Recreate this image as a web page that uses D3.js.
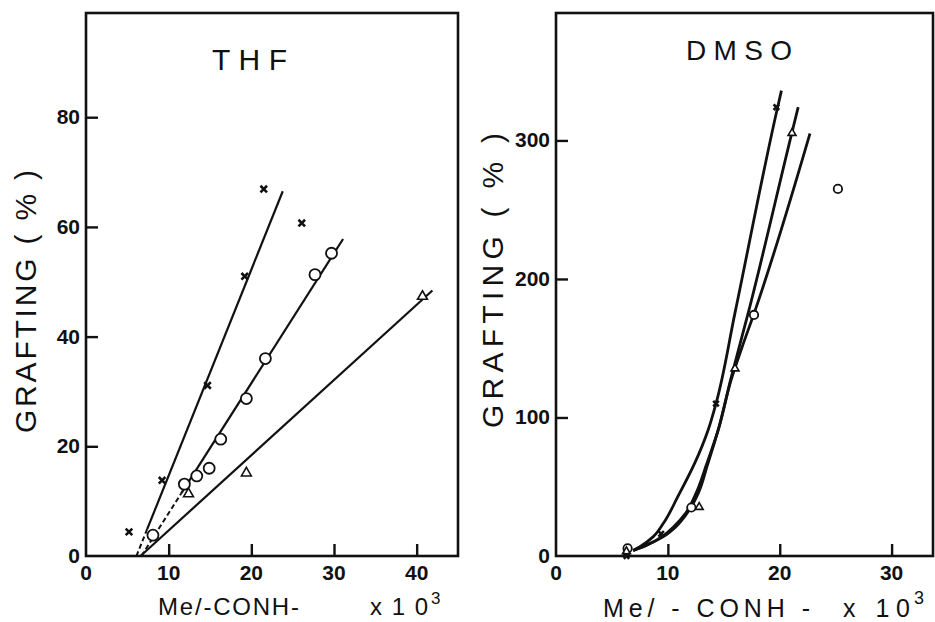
<!DOCTYPE html>
<html><head><meta charset="utf-8">
<script src="https://cdn.jsdelivr.net/npm/d3@7"></script>
<style>
body{margin:0;background:#fff;}
svg{display:block;}
.tick-lbl{font-family:"Liberation Sans Narrow","Arial Narrow","Liberation Sans",sans-serif;font-weight:bold;font-size:21px;fill:#111;}
.ttl{font-family:"Liberation Sans","DejaVu Sans",sans-serif;fill:#111;}
</style></head>
<body>
<svg id="c" width="935" height="622"></svg>
<script>
// ---------- THF panel data ----------
const thfXTicks = [0, 10, 20, 30, 40];
const thfYTicks = [0, 20, 40, 60, 80];
const thfCrossX = [5.2, 9.2, 14.7, 19.2, 21.5, 26.1];
const thfCrossY = [4.4, 13.8, 31.1, 51.0, 66.9, 60.7];
const thfCircleX = [8.1, 11.9, 13.4, 14.9, 16.3, 19.4, 21.7, 27.7, 29.7];
const thfCircleY = [3.8, 13.1, 14.6, 16.0, 21.3, 28.7, 36.0, 51.3, 55.2];
const thfTriX = [12.4, 19.4, 40.7];
const thfTriY = [11.5, 15.3, 47.5];
// fitted straight lines: [x at y=0, x where dashes end, x end, y end]
const thfCrossLine = [6.1, 7.4, 23.8, 66.5];
const thfCircleLine = [6.7, 11.5, 31.1, 57.8];
const thfTriLine = [6.6, 6.6, 41.9, 48.4];

// ---------- DMSO panel data ----------
const dmsoXTicks = [0, 10, 20, 30];
const dmsoYTicks = [0, 100, 200, 300];
const dmsoCrossX = [6.3, 9.4, 14.3, 19.7];
const dmsoCrossY = [0, 16, 110, 324];
const dmsoTriX = [6.3, 12.8, 16.0, 21.1];
const dmsoTriY = [4, 36, 136, 306];
const dmsoCircleX = [6.4, 12.1, 17.7, 25.2];
const dmsoCircleY = [5.5, 35, 174, 265];
// hand-drawn curves
const dmsoCrossCurveX = [6.9, 7.5, 8.7, 9.6, 10.9, 12.4, 13.6, 14.3, 16.0, 19.7, 20.15];
const dmsoCrossCurveY = [4, 6.7, 14, 23.6, 43, 67, 91, 110, 175.5, 320, 336];
const dmsoTriCurveX = [6.9, 8.0, 9.6, 10.7, 11.9, 12.7, 13.55, 14.5, 15.6, 17.2, 21.1, 21.65];
const dmsoTriCurveY = [4, 7.5, 14, 21, 33, 45, 66, 91, 127, 176, 306, 324];
const dmsoCircleCurveX = [6.9, 8.0, 9.5, 10.5, 11.6, 12.5, 13.45, 14.5, 15.65, 16.6, 17.7, 22.7];
const dmsoCircleCurveY = [4, 7.5, 14, 21, 31, 45, 66, 91, 127, 150, 175, 305];

const svg = d3.select("#c");
const zip = (xs, ys) => xs.map((x, i) => [x, ys[i]]);

function panel(opt) {
  const g = svg.append("g");
  const x = d3.scaleLinear().domain(opt.xDomain).range(opt.xRange);
  const y = d3.scaleLinear().domain(opt.yDomain).range(opt.yRange);
  g.append("rect").attr("x", opt.xRange[0]).attr("y", opt.yRange[1])
    .attr("width", opt.xRange[1] - opt.xRange[0]).attr("height", opt.yRange[0] - opt.yRange[1])
    .attr("fill", "none").attr("stroke", "#111").attr("stroke-width", 2.6);
  const xa = d3.axisTop(x).tickValues(opt.xTicks.filter(v => v > 0)).tickSize(12).tickFormat("");
  g.append("g").attr("transform", `translate(0,${opt.yRange[0]})`).call(xa)
    .call(s => { s.select(".domain").remove(); s.selectAll("line").attr("stroke", "#111").attr("stroke-width", 2.4); });
  const ya = d3.axisRight(y).tickValues(opt.yTicks.filter(v => v > 0)).tickSize(12).tickFormat("");
  g.append("g").attr("transform", `translate(${opt.xRange[0]},0)`).call(ya)
    .call(s => { s.select(".domain").remove(); s.selectAll("line").attr("stroke", "#111").attr("stroke-width", 2.4); });
  g.selectAll(".xl").data(opt.xTicks).join("text").attr("class", "tick-lbl")
    .attr("x", d => x(d)).attr("y", opt.yRange[0] + 24).attr("text-anchor", "middle").text(d => d);
  g.selectAll(".yl").data(opt.yTicks).join("text").attr("class", "tick-lbl")
    .attr("x", opt.xRange[0] - 6).attr("y", d => y(d) + 7).attr("text-anchor", "end").text(d => d);
  return {g, x, y};
}

function markers(p, pts, type, sz) {
  const {g, x, y} = p;
  if (type === "circle") {
    g.selectAll(null).data(pts).join("circle").attr("cx", d => x(d[0])).attr("cy", d => y(d[1]))
      .attr("r", sz).attr("fill", "#fff").attr("stroke", "#111").attr("stroke-width", 1.8);
  } else {
    const sym = type === "tri" ? d3.symbolTriangle2 : d3.symbolTimes;
    g.selectAll(null).data(pts).join("path")
      .attr("transform", d => `translate(${x(d[0])},${y(d[1]) + (type === "tri" ? 1 : 0)})`)
      .attr("d", d3.symbol(sym, sz))
      .attr("fill", type === "tri" ? "#fff" : "none").attr("stroke", "#111")
      .attr("stroke-width", type === "tri" ? 1.6 : 2.6);
  }
}

// ---------- THF ----------
const L = panel({xDomain: [0, 45], xRange: [86, 458], yDomain: [0, 99], yRange: [556, 13],
                 xTicks: thfXTicks, yTicks: thfYTicks});
function fitLine(p, ln) {
  const slope = ln[3] / (ln[2] - ln[0]);
  const yAt = v => slope * (v - ln[0]);
  const ls = d3.line().x(d => p.x(d[0])).y(d => p.y(d[1]));
  if (ln[1] > ln[0]) {
    p.g.append("path").attr("d", ls([[ln[0], 0], [ln[1], yAt(ln[1])]]))
      .attr("fill", "none").attr("stroke", "#111").attr("stroke-width", 2).attr("stroke-dasharray", "5,3");
  }
  p.g.append("path").attr("d", ls([[ln[1], yAt(ln[1])], [ln[2], ln[3]]]))
    .attr("fill", "none").attr("stroke", "#111").attr("stroke-width", 2.2);
}
fitLine(L, thfCrossLine);
fitLine(L, thfCircleLine);
fitLine(L, thfTriLine);
markers(L, zip(thfCircleX, thfCircleY), "circle", 5.5);
markers(L, zip(thfTriX, thfTriY), "tri", 70);
markers(L, zip(thfCrossX, thfCrossY), "cross", 30);

svg.append("text").attr("class", "ttl").attr("x", 212).attr("y", 70)
  .attr("font-size", 30).attr("textLength", 75).attr("lengthAdjust", "spacing").text("T H F");
svg.append("text").attr("class", "ttl").attr("font-size", 30)
  .attr("transform", "translate(36,433) rotate(-90)")
  .attr("textLength", 263).attr("lengthAdjust", "spacing").text("GRAFTING ( % )");
svg.append("text").attr("class", "ttl").attr("font-size", 24).attr("x", 158).attr("y", 615)
  .attr("textLength", 141).attr("lengthAdjust", "spacing").text("Me/-CONH-");
svg.append("text").attr("class", "ttl").attr("font-size", 24).attr("x", 370).attr("y", 615)
  .attr("textLength", 58).attr("lengthAdjust", "spacing").text("x10");
svg.append("text").attr("class", "ttl").attr("font-size", 17).attr("x", 431).attr("y", 604).text("3");

// ---------- DMSO ----------
const R = panel({xDomain: [0, 33.7], xRange: [556, 933], yDomain: [0, 392], yRange: [556, 13],
                 xTicks: dmsoXTicks, yTicks: dmsoYTicks});
const cl = d3.line().x(d => R.x(d[0])).y(d => R.y(d[1])).curve(d3.curveMonotoneY);
[[dmsoCrossCurveX, dmsoCrossCurveY], [dmsoTriCurveX, dmsoTriCurveY], [dmsoCircleCurveX, dmsoCircleCurveY]]
  .forEach(([xs, ys]) => {
    R.g.append("path").attr("d", cl(zip(xs, ys))).attr("fill", "none")
      .attr("stroke", "#111").attr("stroke-width", 2.8);
  });
markers(R, zip(dmsoCircleX, dmsoCircleY), "circle", 4.2);
markers(R, zip(dmsoTriX, dmsoTriY), "tri", 45);
markers(R, zip(dmsoCrossX, dmsoCrossY), "cross", 22);

svg.append("text").attr("class", "ttl").attr("x", 686).attr("y", 60)
  .attr("font-size", 28).attr("textLength", 106).attr("lengthAdjust", "spacing").text("D M S O");
svg.append("text").attr("class", "ttl").attr("font-size", 30)
  .attr("transform", "translate(503,428) rotate(-90)")
  .attr("textLength", 295).attr("lengthAdjust", "spacing").text("GRAFTING ( % )");
svg.append("text").attr("class", "ttl").attr("font-size", 25).attr("x", 603).attr("y", 617)
  .attr("textLength", 207).attr("lengthAdjust", "spacing").text("Me/ - CONH -");
svg.append("text").attr("class", "ttl").attr("font-size", 25).attr("x", 843).attr("y", 617)
  .attr("textLength", 67).attr("lengthAdjust", "spacing").text("x 10");
svg.append("text").attr("class", "ttl").attr("font-size", 18).attr("x", 914).attr("y", 604).text("3");
</script>
</body></html>
